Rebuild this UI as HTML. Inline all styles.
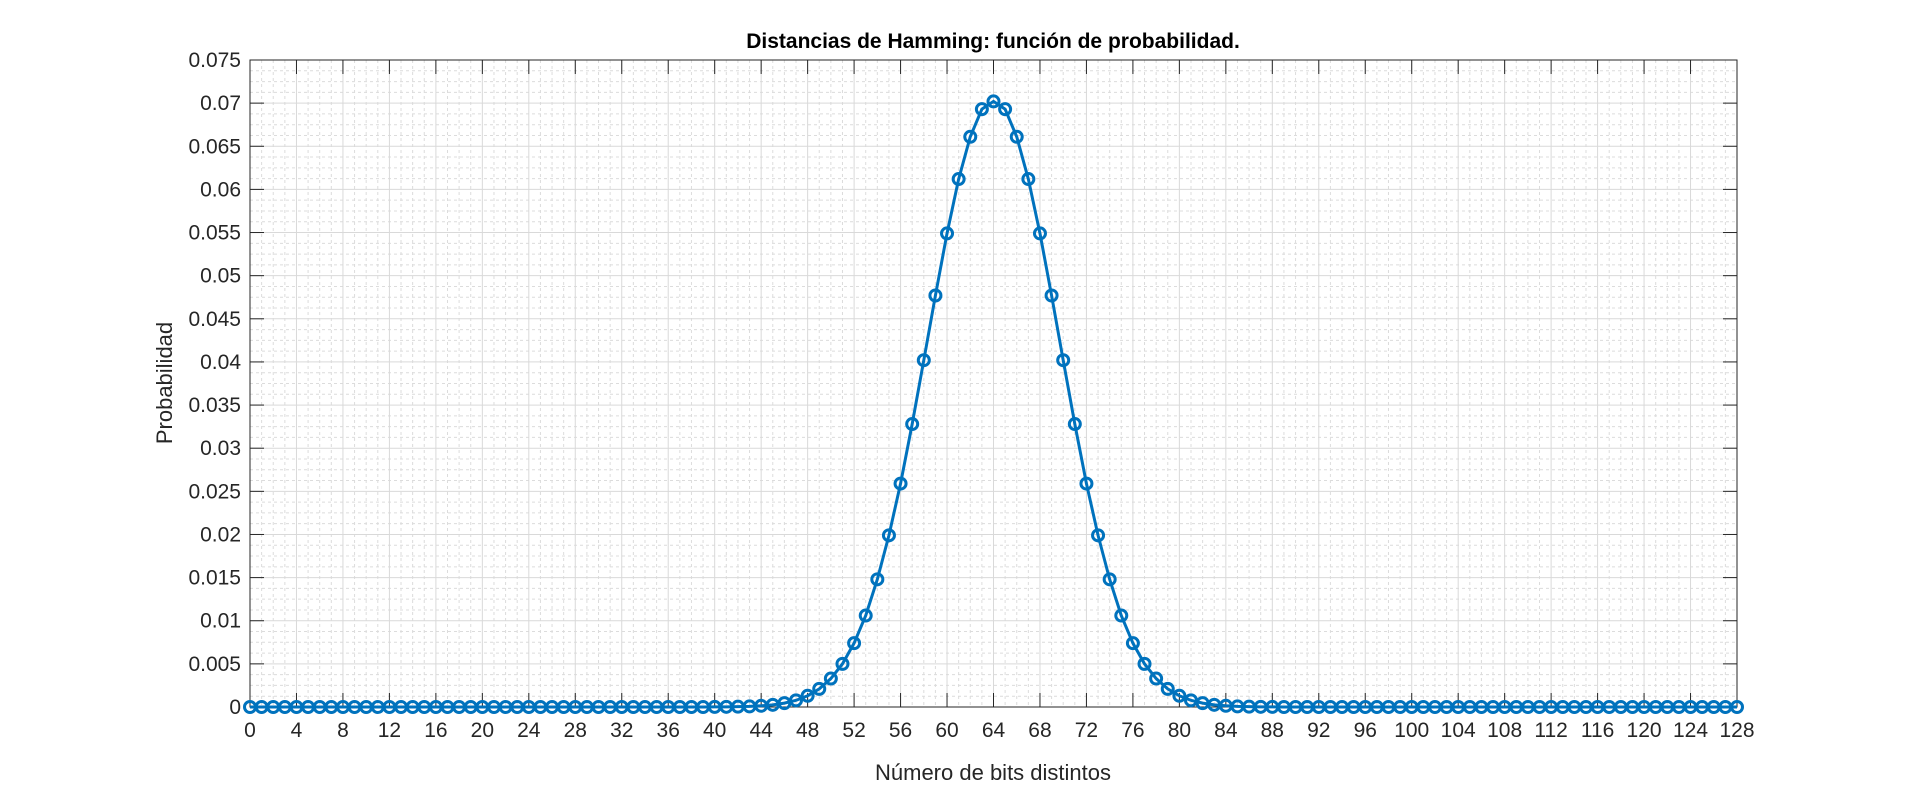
<!DOCTYPE html>
<html><head><meta charset="utf-8"><style>
html,body{margin:0;padding:0;background:#fff;}
svg{display:block;font-family:"Liberation Sans",sans-serif;}
</style></head><body>
<svg id="chart" width="1920" height="795" viewBox="0 0 1920 795" xmlns="http://www.w3.org/2000/svg">
<rect width="1920" height="795" fill="#fff"/>
<g id="grid"></g><g id="axes"></g><g id="series"></g>
<text x="993" y="48" text-anchor="middle" font-size="21" font-weight="bold" fill="#000">Distancias de Hamming: función de probabilidad.</text>
<text x="993" y="780" text-anchor="middle" font-size="22" fill="#262626">Número de bits distintos</text>
<text transform="translate(172,383) rotate(-90)" text-anchor="middle" font-size="22" fill="#262626">Probabilidad</text>
</svg>
<script>
const xTicks=[0,4,8,12,16,20,24,28,32,36,40,44,48,52,56,60,64,68,72,76,80,84,88,92,96,100,104,108,112,116,120,124,128];
const yTicks=[0,0.005,0.01,0.015,0.02,0.025,0.03,0.035,0.04,0.045,0.05,0.055,0.06,0.065,0.07,0.075];
const yTickLabels=["0","0.005","0.01","0.015","0.02","0.025","0.03","0.035","0.04","0.045","0.05","0.055","0.06","0.065","0.07","0.075"];
const centerVals=[0.0702,0.0693,0.0661,0.0612,0.0549,0.0477,0.0402,0.0328,0.0259,0.0199,0.0148,0.0106,0.0074,0.0050,0.0033,0.0021,0.0013,0.00077,0.00045,0.00025,0.00014,0.00007,0.00004,0.00002,0.00001];
const NS="http://www.w3.org/2000/svg";
const L=250,R=1737,T=60,B=707,xmin=0,xmax=128,ymin=0,ymax=0.075;
const xs=v=>L+(v-xmin)/(xmax-xmin)*(R-L);
const ys=v=>B-(v-ymin)/(ymax-ymin)*(B-T);
const values=[];
for(let k=0;k<=128;k++){const d=Math.abs(k-64);values.push(d<centerVals.length?centerVals[d]:0);}
function mk(tag,attrs,parent){const e=document.createElementNS(NS,tag);for(const k in attrs)e.setAttribute(k,attrs[k]);parent.appendChild(e);return e;}
const grid=document.getElementById('grid'),axes=document.getElementById('axes'),series=document.getElementById('series');
for(let i=0;i<xTicks.length-1;i++){for(let j=1;j<4;j++){const x=xs(xTicks[i]+(xTicks[i+1]-xTicks[i])*j/4);
const l=mk('line',{x1:x,x2:x,y1:T,y2:B,stroke:'#dcdcdc','stroke-width':1,'stroke-dasharray':'3,3'},grid);

}}
for(let i=0;i<yTicks.length-1;i++){for(let j=1;j<4;j++){const y=ys(yTicks[i]+(yTicks[i+1]-yTicks[i])*j/4);
const l=mk('line',{x1:L,x2:R,y1:y,y2:y,stroke:'#dcdcdc','stroke-width':1,'stroke-dasharray':'3,3'},grid);

}}
xTicks.forEach(v=>{const x=xs(v);
const g=mk('line',{x1:x,x2:x,y1:T,y2:B,stroke:'#d9d9d9','stroke-width':1},grid);


mk('line',{x1:x,x2:x,y1:B,y2:B-14,stroke:'#262626','stroke-width':1},axes);
mk('line',{x1:x,x2:x,y1:T,y2:T+14,stroke:'#262626','stroke-width':1},axes);
const t=mk('text',{x:x,y:B+30,'text-anchor':'middle','font-size':21,fill:'#262626'},axes);t.textContent=v;

});
yTicks.forEach((v,i)=>{const y=ys(v);
const g=mk('line',{x1:L,x2:R,y1:y,y2:y,stroke:'#d9d9d9','stroke-width':1},grid);


mk('line',{x1:L,x2:L+14,y1:y,y2:y,stroke:'#262626','stroke-width':1},axes);
mk('line',{x1:R,x2:R-14,y1:y,y2:y,stroke:'#262626','stroke-width':1},axes);
const t=mk('text',{x:L-9,y:y+7,'text-anchor':'end','font-size':21,fill:'#262626'},axes);t.textContent=yTickLabels[i];

});
const box=mk('rect',{x:L,y:T,width:R-L,height:B-T,fill:'none',stroke:'#262626','stroke-width':1},axes);


const pts=values.map((v,k)=>xs(k)+','+ys(v)).join(' ');
const pl=mk('polyline',{points:pts,fill:'none',stroke:'#0072BD','stroke-width':3},series);


values.forEach((v,k)=>{const c=mk('circle',{cx:xs(k),cy:ys(v),r:5.5,fill:'none',stroke:'#0072BD','stroke-width':3},series);

});
</script>
</body></html>
